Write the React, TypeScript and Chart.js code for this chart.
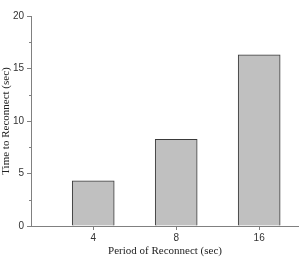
import React, { useEffect, useRef } from "react";
import { Chart, registerables } from "chart.js";

Chart.register(...registerables);

const categories = ["4", "8", "16"];
const positions = [1, 2, 3];
const reconnectTimes = [4.3, 8.25, 16.3];
const yTicks = [0, 5, 10, 15, 20];
const yMinorTicks = [2.5, 7.5, 12.5, 17.5];

const minorTickPlugin = {
  id: "minorTicks",
  afterDraw(chart: any) {
    const y = chart.scales.y;
    const ctx = chart.ctx;
    ctx.save();
    ctx.strokeStyle = "#808080";
    ctx.lineWidth = 1;
    yMinorTicks.forEach((v) => {
      const py = Math.round(y.getPixelForValue(v)) + 0.5;
      ctx.beginPath();
      ctx.moveTo(y.right - 2, py);
      ctx.lineTo(y.right, py);
      ctx.stroke();
    });
    ctx.restore();
  },
};

export default function App() {
  const ref = useRef<HTMLCanvasElement | null>(null);

  useEffect(() => {
    document.body.style.margin = "0";
    const chart = new Chart(ref.current as HTMLCanvasElement, {
      type: "bar",
      data: {
        datasets: [
          {
            data: positions.map((p, i) => ({ x: p, y: reconnectTimes[i] })),
            backgroundColor: "#c0c0c0",
            borderColor: "#3a3a3a",
            borderWidth: 1,
            barThickness: 42,
          },
        ],
      },
      options: {
        animation: false,
        responsive: false,
        maintainAspectRatio: false,
        layout: { padding: { top: 16, left: 0, right: 0, bottom: 0 } },
        plugins: {
          legend: { display: false },
          tooltip: { enabled: false },
        },
        scales: {
          x: {
            type: "linear",
            min: 0.25,
            max: 3.48,
            offset: false,
            afterBuildTicks: (scale: any) => {
              scale.ticks = positions.map((v) => ({ value: v }));
            },
            afterFit: (scale: any) => {
              scale.height = 34;
            },
            grid: {
              display: true,
              offset: false,
              drawOnChartArea: false,
              drawTicks: true,
              tickLength: 4,
              color: "#808080",
            },
            border: { display: true, color: "#808080" },
            ticks: {
              autoSkip: false,
              maxRotation: 0,
              padding: 2,
              color: "#333",
              font: { family: "Liberation Sans", size: 10 },
              callback: (v: any) => {
                const i = positions.indexOf(Number(v));
                return i >= 0 ? categories[i] : "";
              },
            },
            title: {
              display: true,
              text: "Period of Reconnect (sec)",
              color: "#222",
              font: { family: "Liberation Serif", size: 11 },
              padding: { top: 0, bottom: 2 },
            },
          },
          y: {
            min: 0,
            max: 20,
            afterBuildTicks: (scale: any) => {
              scale.ticks = yTicks.map((v) => ({ value: v }));
            },
            afterFit: (scale: any) => {
              scale.width = 31;
            },
            grid: {
              display: true,
              drawOnChartArea: false,
              drawTicks: true,
              tickLength: 4,
              color: "#808080",
            },
            border: { display: true, color: "#808080" },
            ticks: {
              padding: 3,
              color: "#333",
              font: { family: "Liberation Sans", size: 10 },
            },
            title: {
              display: true,
              text: "Time to Reconnect (sec)",
              color: "#222",
              font: { family: "Liberation Serif", size: 11 },
              padding: { top: 0, bottom: 0 },
            },
          },
        },
      },
      plugins: [minorTickPlugin],
    });
    return () => chart.destroy();
  }, []);

  return (
    <div style={{ width: 299, height: 260 }}>
      <canvas ref={ref} width={299} height={260} style={{ width: 299, height: 260 }} />
    </div>
  );
}
